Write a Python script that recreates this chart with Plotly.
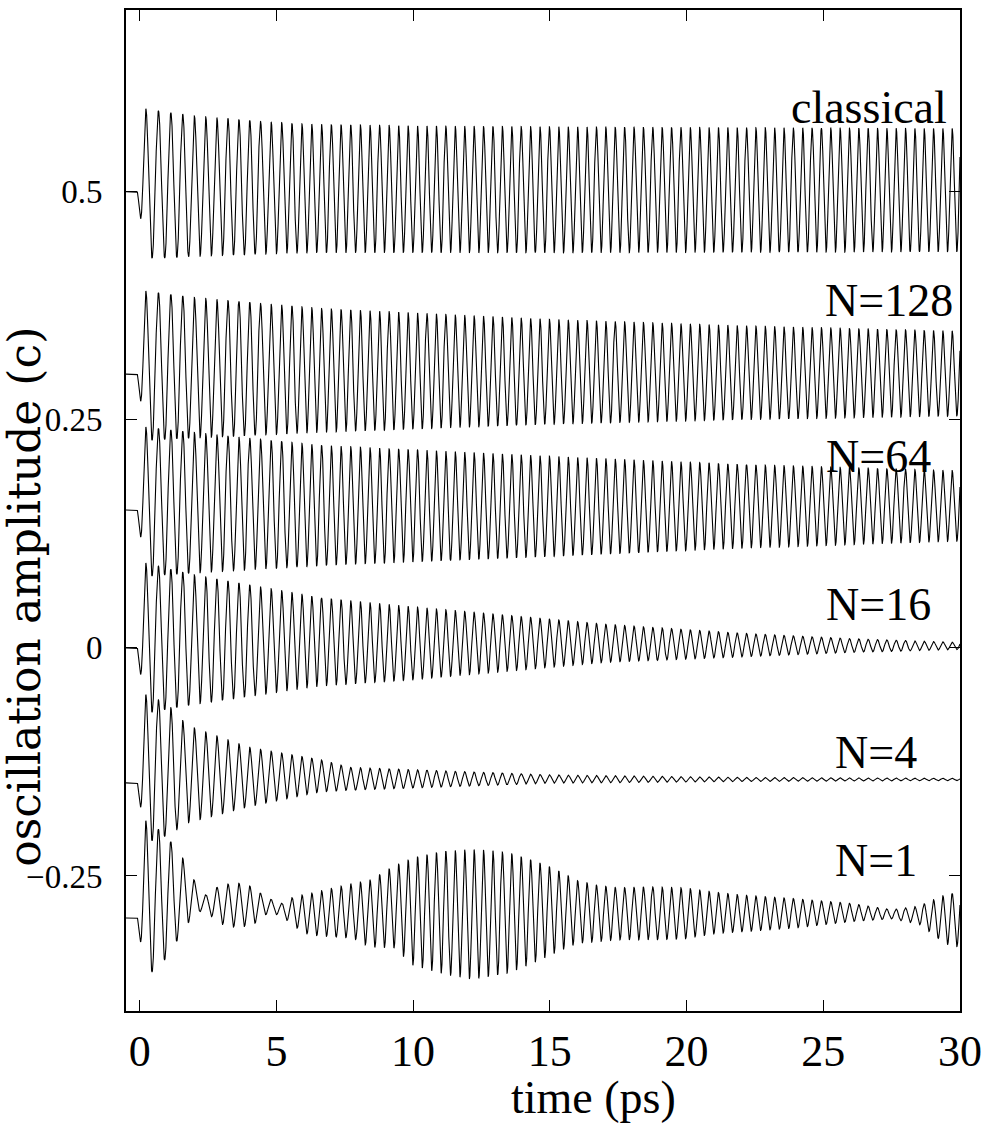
import numpy as np
import plotly.graph_objects as go

# ---------------- data ----------------
# carrier period (ps) at sample times (ps)
period_t = [-0.10, 0.5, 1.0, 1.5, 2.5, 4.0, 5.0, 6.0, 10.0, 30.0]
period_ps = [0.42, 0.47, 0.45, 0.43, 0.41, 0.395, 0.385, 0.36, 0.345, 0.341]
start_t = -0.10  # oscillation starts

labels = ["classical", "N=128", "N=64", "N=16", "N=4", "N=1"]
offsets = [0.50, 0.30, 0.151, 0.0, -0.148, -0.296]

# upper / lower envelopes (oscillation amplitude, c) at sample times
cls_t = [0.2, 1, 2, 4, 6, 10, 15, 30]
cls_up = [0.591, 0.587, 0.583, 0.578, 0.574, 0.572, 0.571, 0.569]
cls_lo = [0.427, 0.427, 0.429, 0.431, 0.433, 0.433, 0.433, 0.434]

n128_t = [0.2, 2, 6.6, 15, 22, 30]
n128_up = [0.391, 0.384, 0.372, 0.360, 0.353, 0.347]
n128_lo = [0.227, 0.230, 0.236, 0.245, 0.250, 0.254]

n64_t = [0.2, 2, 6.6, 15, 22, 30]
n64_up = [0.242, 0.236, 0.222, 0.210, 0.201, 0.194]
n64_lo = [0.078, 0.082, 0.090, 0.100, 0.109, 0.117]

n16_t = [0.2, 2, 6.6, 10, 17, 22, 26, 29.9]
n16_up = [0.093, 0.080, 0.055, 0.045, 0.026, 0.016, 0.010, 0.006]
n16_lo = [-0.072, -0.062, -0.042, -0.035, -0.016, -0.010, -0.005, -0.002]

n4_t = [0.2, 1.0, 1.74, 4.0, 6.6, 7.7, 15, 22, 30]
n4_up = [-0.051, -0.061, -0.085, -0.109, -0.1225, -0.131, -0.1392, -0.142, -0.143]
n4_lo = [-0.214, -0.206, -0.192, -0.174, -0.158, -0.156, -0.1484, -0.1465, -0.1455]

n1_t = [0.2, 0.85, 1.35, 1.85, 2.13, 2.42, 2.9, 3.35, 3.7, 4.15, 4.5, 4.9, 5.2,
        5.55, 5.9, 6.26, 7.8, 8.4, 9.3, 10.0, 11.06, 12.1, 12.8, 13.55, 14.5,
        15.3, 16.0, 16.7, 17.5, 18.7, 19.9, 21.1, 22.1, 24.0, 26.0, 27.5, 28.5,
        29.5, 30.0]
n1_up = [-0.189, -0.202, -0.220, -0.243, -0.265, -0.271, -0.261, -0.258, -0.258,
         -0.262, -0.271, -0.277, -0.280, -0.274, -0.271, -0.269, -0.258, -0.255,
         -0.239, -0.230, -0.223, -0.221, -0.222, -0.225, -0.234, -0.244, -0.255,
         -0.260, -0.263, -0.262, -0.263, -0.268, -0.271, -0.275, -0.280, -0.287,
         -0.283, -0.270, -0.268]
n1_lo = [-0.362, -0.345, -0.322, -0.298, -0.289, -0.289, -0.302, -0.306, -0.306,
         -0.304, -0.293, -0.291, -0.295, -0.302, -0.311, -0.315, -0.318, -0.328,
         -0.329, -0.348, -0.357, -0.363, -0.360, -0.356, -0.344, -0.333, -0.324,
         -0.322, -0.320, -0.320, -0.319, -0.313, -0.311, -0.307, -0.300, -0.297,
         -0.303, -0.325, -0.328]

env_t = [cls_t, n128_t, n64_t, n16_t, n4_t, n1_t]
env_up = [cls_up, n128_up, n64_up, n16_up, n4_up, n1_up]
env_lo = [cls_lo, n128_lo, n64_lo, n16_lo, n4_lo, n1_lo]

label_x = [29.6, 29.8, 29.0, 29.0, 28.5, 28.5]
label_y = [0.592, 0.381, 0.210, 0.048, -0.115, -0.233]

x_ticks = [0, 5, 10, 15, 20, 25, 30]
y_ticks = [-0.25, 0, 0.25, 0.5]
y_ticktext = ["\u22120.25", "0", "0.25", "0.5"]

# ---------------- build curves ----------------
t = np.linspace(-0.5, 30.0, 14000)
freq = 1.0 / np.interp(t, period_t, period_ps)
phase = np.concatenate([[0.0], np.cumsum(0.5 * (freq[1:] + freq[:-1]) * np.diff(t))])
phase0 = np.interp(start_t, t, phase)
phase = 2 * np.pi * (phase - phase0)

fig = go.Figure()
for off, tt, up, lo in zip(offsets, env_t, env_up, env_lo):
    et = [start_t] + list(tt)
    eu = [off] + list(up)
    el = [off] + list(lo)
    u = np.interp(t, et, eu)
    l = np.interp(t, et, el)
    y = 0.5 * (u + l) - 0.5 * (u - l) * np.sin(phase)
    y = np.where(t < start_t, off, y)
    fig.add_trace(go.Scatter(x=t, y=y, mode="lines",
                             line=dict(color="black", width=1.1),
                             showlegend=False, hoverinfo="skip"))

serif = "Liberation Serif, Times New Roman, serif"
for lab, lx, ly in zip(labels, label_x, label_y):
    fig.add_annotation(x=lx, y=ly, text=lab, showarrow=False, xanchor="right",
                       yanchor="middle", font=dict(family=serif, size=46, color="black"))

fig.add_annotation(x=0.56, y=-0.086, xref="paper", yref="paper", text="time (ps)",
                   showarrow=False, xanchor="center", yanchor="middle",
                   font=dict(family=serif, size=46, color="black"))
fig.add_annotation(x=-0.122, y=0.414, xref="paper", yref="paper",
                   text="oscillation amplitude (c)", textangle=-90,
                   showarrow=False, xanchor="center", yanchor="middle",
                   font=dict(family="DejaVu Serif, serif", size=44, color="black"))

fig.update_layout(
    width=991, height=1135,
    margin=dict(l=126, r=31, t=8, b=124),
    paper_bgcolor="white", plot_bgcolor="white",
    xaxis=dict(range=[-0.5, 30], tickvals=x_ticks, ticks="inside", ticklen=11,
               tickcolor="black", showline=True, linecolor="black", linewidth=2,
               mirror="ticks", showgrid=False, zeroline=False,
               tickfont=dict(family=serif, size=44, color="black"),
               ticklabelstandoff=0),
    yaxis=dict(range=[-0.398, 0.699], tickvals=y_ticks, ticktext=y_ticktext,
               ticks="inside", ticklen=11, tickcolor="black", showline=True,
               linecolor="black", linewidth=2, mirror="ticks", showgrid=False,
               zeroline=False, tickfont=dict(family=serif, size=33, color="black"),
               ticklabelstandoff=15),
)
fig.write_html("out.html")
